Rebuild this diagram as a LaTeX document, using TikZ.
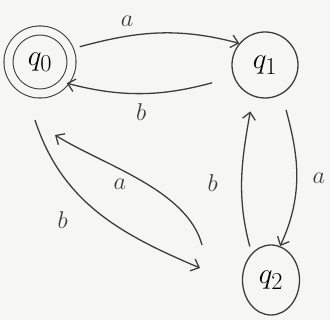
\documentclass[tikz,border=0pt]{standalone}
\usetikzlibrary{arrows.meta,shapes.geometric}
\definecolor{paper}{RGB}{246,247,244}
\definecolor{pencil}{RGB}{60,60,60}
\begin{document}
\begin{tikzpicture}[x=0.03cm, y=0.03cm]

% --- Styles ---
\tikzset{
    state/.style={circle, draw=pencil, line width=1.1pt, minimum size=1.98cm, inner sep=0pt, font=\Huge},
    accepting/.style={state, minimum size=1.89cm, double=paper, double distance=0.24cm, line width=0.9pt},
    oval/.style={ellipse, draw=pencil, line width=1.1pt, minimum width=1.71cm, minimum height=2.1cm, inner sep=0pt, font=\Huge},
    edge/.style={draw=pencil, line width=1.1pt, -{Straight Barb[length=6pt, width=11pt]}},
    sym/.style={font=\huge, text=pencil}
}

    % Papier
    \fill[paper] (0,0) rectangle (330,320);
    \useasboundingbox (0,0) rectangle (330,320);

    % Toestanden
    \node[accepting] (q0) at (40,258) {$q_0$};
    \node[state] (q1) at (265,255) {$q_1$};
    \node[oval] (q2) at (271,40) {$q_2$};

    % Tussen q0 en q1
    \draw[edge, shorten <=9pt] (q0.23) to[out=15, in=165] node[sym, pos=0.33, above=5pt] {$a$} (q1.140);
    \draw[edge, shorten <=19pt, shorten >=2pt] (q1.201) to[out=195, in=-15] node[sym, pos=0.55, below=5pt] {$b$} (q0.-40);

    % Tussen q1 en q2
    \draw[edge, shorten <=14pt] (q1.-60) to[out=-75, in=65] node[sym, pos=0.55, right=10pt] {$a$} (q2.75);
    \draw[edge, shorten <=6pt, shorten >=13pt] (q2.126) to[out=105, in=-100] node[sym, pos=0.45, left=17pt] {$b$} (q1.-111);

    % Tussen q0 en q2 (vrije uiteinden)
    \draw[edge] ([shift={(-5,-58)}]q0.center) to[out=-72, in=157] node[sym, pos=0.4, below left=8pt] {$b$} ([shift={(-71,12)}]q2.center);
    \draw[edge] ([shift={(-69,35)}]q2.center) to[out=105, in=-32, looseness=0.8] node[sym, pos=0.62, below=5pt] {$a$} ([shift={(15,-73)}]q0.center);

\end{tikzpicture}
\end{document}
